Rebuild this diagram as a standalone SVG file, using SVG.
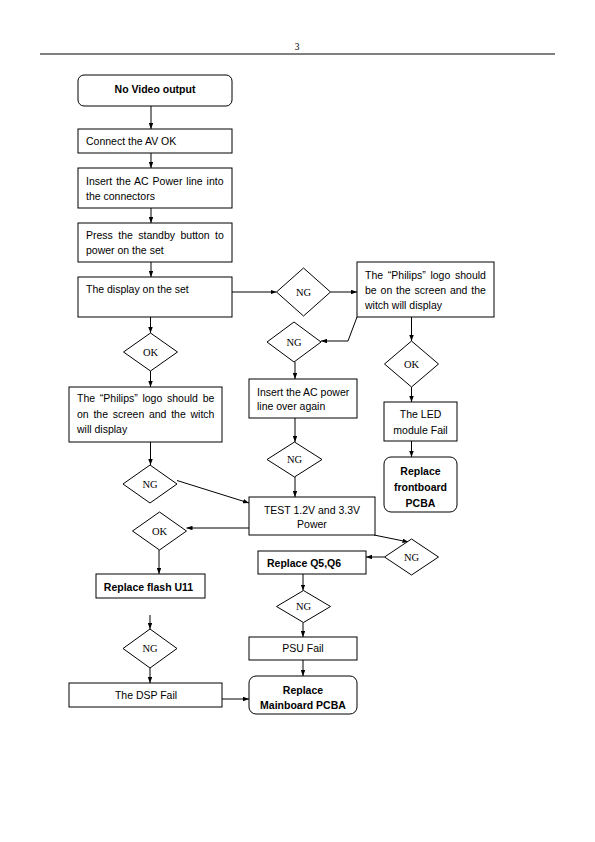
<svg xmlns="http://www.w3.org/2000/svg" width="595" height="842" viewBox="0 0 595 842">
<defs>
<marker id="ah" viewBox="0 0 8 6" refX="8" refY="3" markerWidth="6" markerHeight="4.5" markerUnits="userSpaceOnUse" orient="auto">
<path d="M0,0 L8,3 L0,6 z" fill="#000"/>
</marker>
<style>
.b{fill:#fff;stroke:#000;stroke-width:1}
.t{font-family:"Liberation Sans",Arial,sans-serif;font-size:10.5px;fill:#000}
.tb{font-family:"Liberation Sans",Arial,sans-serif;font-size:10.5px;font-weight:bold;fill:#000}
.d{font-family:"Liberation Serif","Times New Roman",serif;font-size:10.5px;fill:#000}
.c{fill:none;stroke:#000;stroke-width:1;marker-end:url(#ah)}
.m{text-anchor:middle}
</style>
</defs>
<rect width="595" height="842" fill="#fff"/>
<g id="header">
<line x1="40" y1="54" x2="555" y2="54" stroke="#000" stroke-width="1"/>
<text x="297" y="50" class="d m" style="font-size:9.5px">3</text>
</g>
<g id="connectors">
<line class="c" x1="151" y1="106" x2="151" y2="129"/>
<line class="c" x1="151" y1="153" x2="151" y2="168"/>
<line class="c" x1="151" y1="208" x2="151" y2="223"/>
<line class="c" x1="151" y1="262" x2="151" y2="277"/>
<line class="c" x1="150.5" y1="317" x2="150.5" y2="333"/>
<line class="c" x1="150.5" y1="371" x2="150.5" y2="387"/>
<line class="c" x1="150.5" y1="442" x2="150.5" y2="465"/>
<line class="c" x1="177" y1="480.5" x2="249" y2="503"/>
<line class="c" x1="249" y1="528" x2="186.5" y2="528"/>
<line class="c" x1="159" y1="550" x2="159" y2="574"/>
<line class="c" x1="150" y1="615" x2="150" y2="629"/>
<line class="c" x1="150" y1="668" x2="150" y2="683"/>
<line class="c" x1="222" y1="699" x2="249" y2="699"/>
<line class="c" x1="232" y1="292" x2="276.5" y2="292"/>
<line class="c" x1="330.5" y1="292" x2="357" y2="292"/>
<polyline class="c" points="357,317 348,341 321,341"/>
<line class="c" x1="295" y1="362" x2="295" y2="379"/>
<line class="c" x1="295" y1="418" x2="295" y2="442"/>
<line class="c" x1="295" y1="477" x2="295" y2="497"/>
<line class="c" x1="411.5" y1="317" x2="411.5" y2="341"/>
<line class="c" x1="411.5" y1="387" x2="411.5" y2="402"/>
<line class="c" x1="411.5" y1="441" x2="411.5" y2="457"/>
<line class="c" x1="374" y1="535" x2="408.5" y2="542"/>
<line class="c" x1="384.5" y1="557" x2="366" y2="557"/>
<line class="c" x1="303" y1="574" x2="303" y2="590.5"/>
<line class="c" x1="303" y1="622.5" x2="303" y2="637"/>
<line class="c" x1="303" y1="660" x2="303" y2="676"/>
</g>
<g id="start">
<rect class="b" x="78" y="75" width="154" height="31" rx="6"/>
<text class="tb m" x="155" y="93">No Video output</text>
</g>
<g id="connect">
<rect class="b" x="78" y="129" width="154" height="24"/>
<text class="t" x="86" y="145">Connect the AV OK</text>
</g>
<g id="insert">
<rect class="b" x="78" y="168" width="154" height="40"/>
<text class="t" x="86" y="185" word-spacing="1">Insert the AC Power line into</text>
<text class="t" x="86" y="199.5">the connectors</text>
</g>
<g id="press">
<rect class="b" x="78" y="223" width="154" height="39"/>
<text class="t" x="86" y="238.5" word-spacing="2.5">Press the standby button to</text>
<text class="t" x="86" y="254">power on the set</text>
</g>
<g id="display">
<rect class="b" x="78" y="277" width="154" height="40"/>
<text class="t" x="86" y="293">The display on the set</text>
</g>
<g id="ng1">
<polygon class="b" points="276.5,292 303.5,268 330.5,292 303.5,316"/>
<text class="d m" x="303.5" y="295.5">NG</text>
</g>
<g id="philipsR">
<rect class="b" x="357" y="262" width="137" height="55"/>
<text class="t" x="365" y="279" word-spacing="1.8">The “Philips” logo should</text>
<text class="t" x="365" y="294" word-spacing="0.95">be on the screen and the</text>
<text class="t" x="365" y="309">witch will display</text>
</g>
<g id="ng2">
<polygon class="b" points="267,342 294,322 321,342 294,362"/>
<text class="d m" x="294" y="345.5">NG</text>
</g>
<g id="insertAC">
<rect class="b" x="249" y="379" width="108" height="39"/>
<text class="t" x="257" y="395.5">Insert the AC power</text>
<text class="t" x="257" y="410">line over again</text>
</g>
<g id="ng3">
<polygon class="b" points="267,459.5 294.5,442 322,459.5 294.5,477"/>
<text class="d m" x="294.5" y="463">NG</text>
</g>
<g id="okR">
<polygon class="b" points="384.5,364 411.5,341 438.5,364 411.5,387"/>
<text class="d m" x="411.5" y="367.5">OK</text>
</g>
<g id="led">
<rect class="b" x="384" y="402" width="73" height="39"/>
<text class="t m" x="420.5" y="418">The LED</text>
<text class="t m" x="420.5" y="434">module Fail</text>
</g>
<g id="frontboard">
<rect class="b" x="384" y="457" width="73" height="55" rx="7"/>
<text class="tb m" x="420.5" y="474.5">Replace</text>
<text class="tb m" x="420.5" y="490.5">frontboard</text>
<text class="tb m" x="420.5" y="506.5">PCBA</text>
</g>
<g id="okL">
<polygon class="b" points="123.5,352 150.5,333 177.5,352 150.5,371"/>
<text class="d m" x="150.5" y="355.5">OK</text>
</g>
<g id="philipsL">
<rect class="b" x="69" y="387" width="153" height="55"/>
<text class="t" x="77" y="402" word-spacing="1.8">The “Philips” logo should be</text>
<text class="t" x="77" y="418" word-spacing="1.8">on the screen and the witch</text>
<text class="t" x="77" y="433">will display</text>
</g>
<g id="ngL">
<polygon class="b" points="123,484 150,465 177,484 150,503"/>
<text class="d m" x="150" y="487.5">NG</text>
</g>
<g id="test">
<rect class="b" x="249" y="497" width="126" height="38"/>
<text class="t m" x="312" y="514">TEST 1.2V and 3.3V</text>
<text class="t m" x="312" y="527.5">Power</text>
</g>
<g id="okL2">
<polygon class="b" points="132.5,531 159.5,512 186.5,531 159.5,550"/>
<text class="d m" x="159.5" y="534.5">OK</text>
</g>
<g id="ngR">
<polygon class="b" points="384.5,557 411.5,539 438.5,557 411.5,575"/>
<text class="d m" x="411.5" y="560.5">NG</text>
</g>
<g id="q5q6">
<rect class="b" x="258" y="551" width="108" height="23"/>
<text class="tb" x="267" y="566.5">Replace Q5,Q6</text>
</g>
<g id="flash">
<rect class="b" x="96" y="574" width="109" height="24"/>
<text class="tb m" x="148.5" y="590.5">Replace flash U11</text>
</g>
<g id="ngQ">
<polygon class="b" points="276.5,606.5 303.5,590.5 330.5,606.5 303.5,622.5"/>
<text class="d m" x="303.5" y="610">NG</text>
</g>
<g id="psu">
<rect class="b" x="249" y="637" width="108" height="23"/>
<text class="t m" x="303" y="652">PSU Fail</text>
</g>
<g id="ngB">
<polygon class="b" points="123,648.5 150,629 177,648.5 150,668"/>
<text class="d m" x="150" y="652">NG</text>
</g>
<g id="dsp">
<rect class="b" x="69" y="683" width="153" height="24"/>
<text class="t m" x="146" y="699">The DSP Fail</text>
</g>
<g id="mainboard">
<rect class="b" x="249" y="676" width="108" height="38" rx="7"/>
<text class="tb m" x="303" y="694">Replace</text>
<text class="tb m" x="303" y="708.5">Mainboard PCBA</text>
</g>
</svg>
